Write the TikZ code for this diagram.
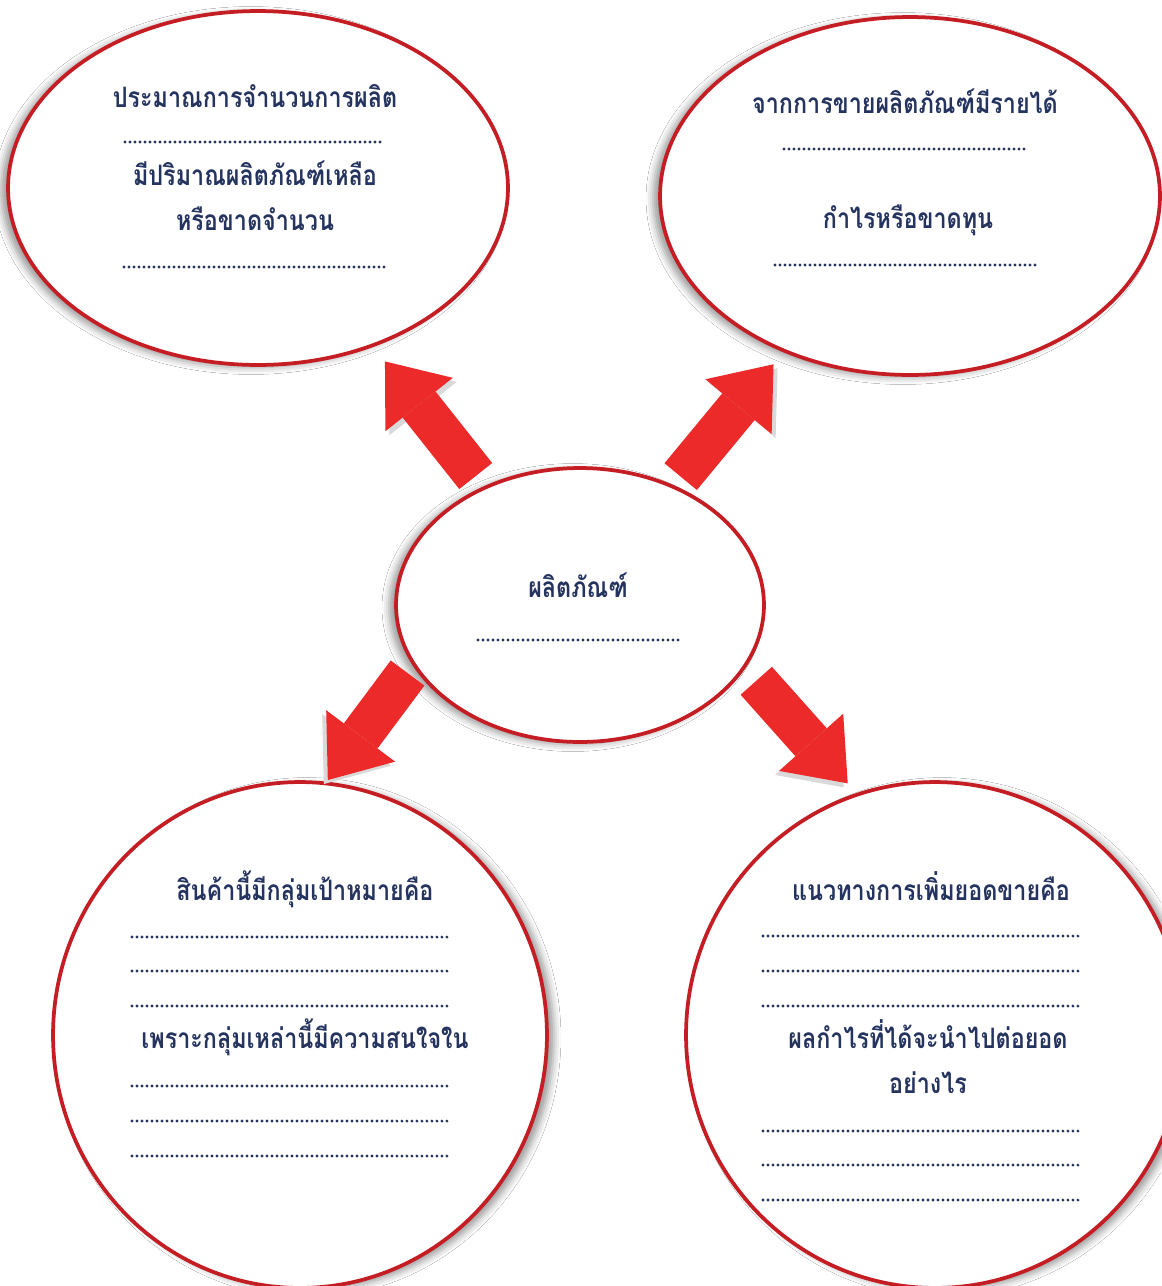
\documentclass[tikz,border=0pt]{standalone}
\usepackage{fontspec}
\newfontfamily\thaifont[Script=Thai, FakeStretch=0.83]{Loma}
\usetikzlibrary{arrows.meta,shapes.geometric,shadows.blur}
\definecolor{inkblue}{HTML}{25335F}
\definecolor{rimred}{HTML}{C41E24}
\definecolor{arrowred}{HTML}{EC2A2A}
\tikzset{
    worksheet/.style={
        x=0.02cm, y=-0.02cm,
        bubble/.style={ellipse, draw=rimred, line width=0.075cm, fill=white, inner sep=0pt},
        lshade/.style={blur shadow={shadow xshift=-0.14cm, shadow yshift=-0.05cm, shadow blur radius=0.14cm, shadow opacity=40}},
        rshade/.style={blur shadow={shadow xshift=0.14cm, shadow yshift=-0.05cm, shadow blur radius=0.14cm, shadow opacity=40}},
        caption/.style={anchor=base, text=inkblue, font=\thaifont\bfseries\fontsize{16}{19}\selectfont},
        blank/.style={draw=inkblue, line width=0.062cm, line cap=round, dash pattern=on 0pt off 0.1cm},
        push/.style={draw=arrowred, line width=0.84cm,
            -{Triangle[width=1.72cm, length=1.1cm, line width=0pt]},
            preaction={draw=black!15, transform canvas={shift={##1}}}},
    },
}

\begin{document}
\begin{tikzpicture}[worksheet]
    \fill[white] (0,0) rectangle (1161,1286);
    \useasboundingbox (0,0) rectangle (1161,1286);

    \node[bubble, lshade, minimum width=10cm,   minimum height=7.08cm]  (plan)    at (258,188)  {};
    \node[bubble, lshade, minimum width=10cm,   minimum height=7.16cm]  (profit)  at (910,196)  {};
    \node[bubble, lshade, minimum width=7.36cm, minimum height=5.48cm]  (product) at (580,605)  {};
    \node[bubble, rshade, minimum width=9.88cm, minimum height=10.12cm] (target)  at (300,1035) {};
    \node[bubble, rshade, minimum width=9.96cm, minimum height=10.12cm] (growth)  at (935,1035) {};

    \draw[push={(4,4)},  shorten <=0.26cm, shorten >=0.37cm] (product.129) -- (plan.-54);
    \draw[push={(4,4)},  shorten <=0.22cm, shorten >=0.31cm] (product.52)  -- (profit.231);
    \draw[push={(-4,4)}, shorten <=0.18cm, shorten >=0.04cm] (product.200) -- (target.84);
    \draw[push={(-4,4)}, shorten <=0.33cm, shorten >=0.26cm] (product.-21) -- (growth.108);

    \node[caption] (plan1) at (255,107) {ประมาณการจำนวนการผลิต};
    \node[caption] (plan2) at (255,185) {มีปริมาณผลิตภัณฑ์เหลือ};
    \node[caption] (plan3) at (255,230) {หรือขาดจำนวน};
    \draw[blank] (125,142) -- (384,142);
    \draw[blank] (124,267) -- (386,267);

    \node[caption] (profit1) at (905,113) {จากการขายผลิตภัณฑ์มีรายได้};
    \node[caption] (profit2) at (908,228) {กำไรหรือขาดทุน};
    \draw[blank] (784,149) -- (1027,149);
    \draw[blank] (775,265) -- (1037,265);

    \node[caption] (product1) at (578,597) {ผลิตภัณฑ์};
    \draw[blank] (478,640) -- (680,640);

    \node[caption] (target1) at (305,900)  {สินค้านี้มีกลุ่มเป้าหมายคือ};
    \node[caption] (target2) at (305,1048) {เพราะกลุ่มเหล่านี้มีความสนใจใน};
    \foreach \y in {937,971,1006,1086,1121,1156}
        \draw[blank] (132,\y) -- (447,\y);

    \node[caption] (growth1) at (931,900)  {แนวทางการเพิ่มยอดขายคือ};
    \node[caption] (growth2) at (928,1048) {ผลกำไรที่ได้จะนำไปต่อยอด};
    \node[caption] (growth3) at (928,1093) {อย่างไร};
    \foreach \y in {936,971,1006,1131,1165,1200}
        \draw[blank] (763,\y) -- (1078,\y);
\end{tikzpicture}
\end{document}
